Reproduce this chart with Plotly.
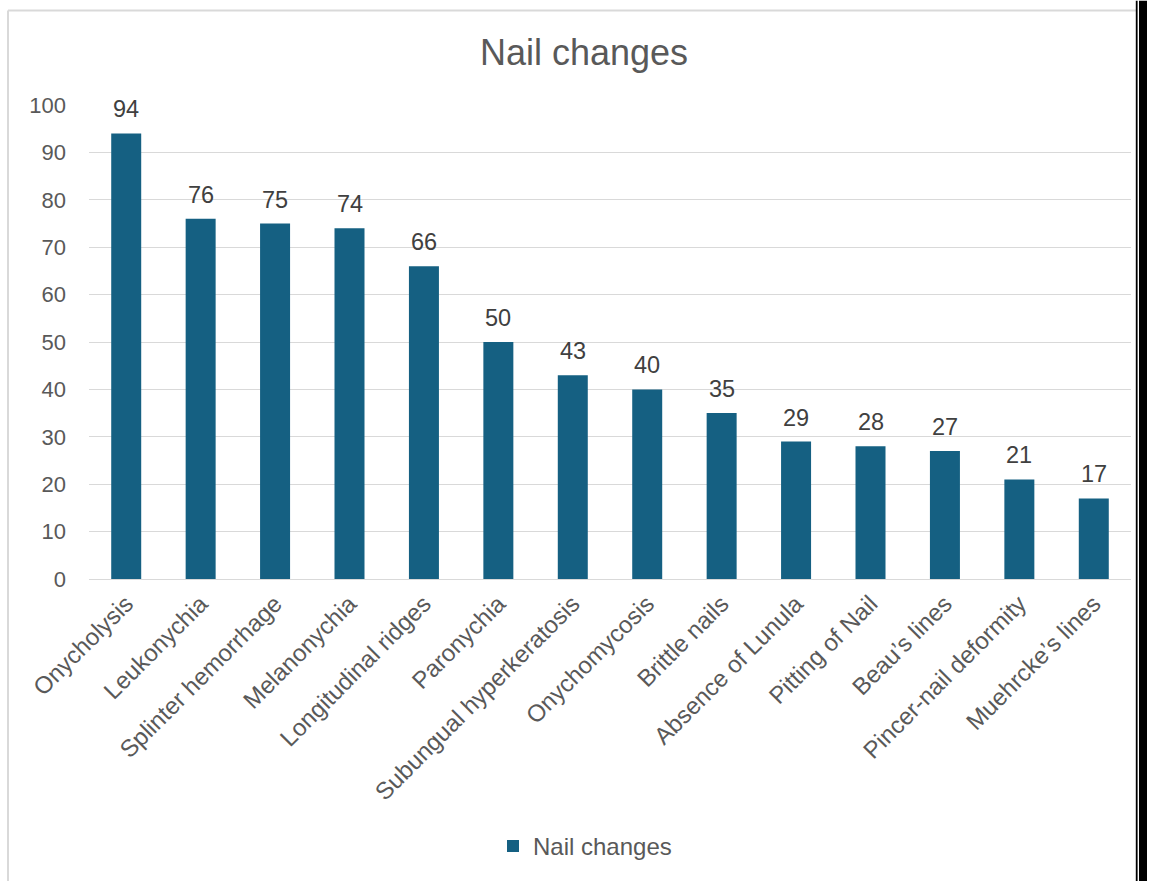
import plotly.graph_objects as go

categories = ["Onycholysis", "Leukonychia", "Splinter hemorrhage", "Melanonychia",
              "Longitudinal ridges", "Paronychia", "Subungual hyperkeratosis",
              "Onychomycosis", "Brittle nails", "Absence of Lunula", "Pitting of Nail",
              "Beau\u2019s lines", "Pincer-nail deformity", "Muehrcke\u2019s lines"]
values = [94, 76, 75, 74, 66, 50, 43, 40, 35, 29, 28, 27, 21, 17]
y_ticks = [0, 10, 20, 30, 40, 50, 60, 70, 80, 90, 100]

BAR = "#156082"
TXT = "#595959"
GRID = "#d9d9d9"
FONT = "Arial, Liberation Sans, sans-serif"

W, H = 1159, 881
L, R, T, B = 89, 1131, 105, 582

def px_x(p):
    return (p - L) / (R - L)

def px_y(p):
    return (B - p) / (B - T)

fig = go.Figure()
fig.add_trace(go.Bar(
    x=categories, y=values, name="Nail changes",
    marker=dict(color=BAR, line=dict(width=0)),
    showlegend=True,
))

for c, v in zip(categories, values):
    fig.add_annotation(x=c, y=v, xref="x", yref="y", text=str(v),
                       showarrow=False, yanchor="middle", yshift=24,
                       font=dict(family=FONT, size=23.5, color="#404040"))

shapes = [
    dict(type="line", xref="paper", yref="paper", x0=px_x(8), x1=px_x(8), y0=px_y(10), y1=px_y(900),
         line=dict(color=GRID, width=2), layer="below"),
    dict(type="line", xref="paper", yref="paper", x0=px_x(8), x1=px_x(1137), y0=px_y(10), y1=px_y(10),
         line=dict(color=GRID, width=2), layer="below"),
    dict(type="rect", xref="paper", yref="paper", x0=px_x(1135.8), x1=px_x(1137.6), y0=px_y(0), y1=px_y(900),
         fillcolor="black", line=dict(width=0)),
    dict(type="rect", xref="paper", yref="paper", x0=px_x(1139), x1=px_x(1147), y0=px_y(0), y1=px_y(900),
         fillcolor="black", line=dict(width=0)),
]

fig.update_layout(
    width=W, height=H,
    margin=dict(l=L, r=W - R, t=T, b=H - B, pad=0),
    paper_bgcolor="white", plot_bgcolor="white",
    font=dict(family=FONT, color=TXT, size=22),
    title=dict(text="Nail changes", x=584 / W, xanchor="center", xref="container",
               y=1 - 52 / H, yanchor="middle", yref="container",
               font=dict(family=FONT, size=36, color=TXT)),
    bargap=0.597,
    showlegend=True,
    legend=dict(orientation="h", x=px_x(585), xanchor="center",
                y=px_y(851), yanchor="middle",
                font=dict(family=FONT, size=24, color=TXT),
                bgcolor="rgba(0,0,0,0)"),
    shapes=shapes,
    xaxis=dict(tickangle=-45, tickfont=dict(family=FONT, size=24, color=TXT),
               showgrid=False, showline=False, ticks="", ticklabelstandoff=5,
               zeroline=False, fixedrange=True),
    yaxis=dict(range=[0, 100], tickvals=y_ticks, showgrid=True, gridcolor=GRID, gridwidth=1.3,
               zeroline=True, zerolinecolor=GRID, zerolinewidth=1.3,
               showline=False, ticks="", ticklabelstandoff=22,
               tickfont=dict(family=FONT, size=22, color=TXT), fixedrange=True),
)

fig.write_html("out.html")
